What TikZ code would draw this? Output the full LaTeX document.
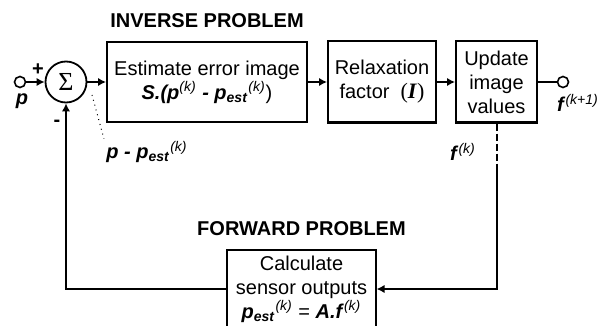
\documentclass[tikz,border=0pt]{standalone}
\usepackage{fontspec}
\setmainfont{Liberation Sans}
\newfontfamily\timesfont{Liberation Serif}
\usetikzlibrary{shapes,arrows,arrows.meta}

\newcommand{\bi}[1]{\textbf{\textit{#1}}}
\newcommand{\supk}{\textsuperscript{\textit{(k)}}}
\newcommand{\pest}{\bi{p}\textsubscript{\bi{est}}\supk}

\begin{document}
\begin{tikzpicture}[x=0.5pt, y=-0.5pt, auto]
        % Define block styles
        \tikzstyle{block} = [rectangle, draw, line width=1pt, align=center, inner sep=2pt]
        \tikzstyle{port} = [circle, draw, line width=0.8pt, minimum size=5.5pt, inner sep=0pt]
        \tikzstyle{adder} = [circle, draw, line width=0.9pt, minimum size=20.5pt, inner sep=0pt]
        \tikzstyle{title} = [font=\bfseries]
        \tikzstyle{tag} = [inner sep=1pt]
        \tikzstyle{line} = [draw, line width=1pt, -{Latex[length=4pt,width=4.2pt]}]

        \useasboundingbox (0,0) rectangle (599,326);

        % Nodes
        \node [port] (in) at (20,82) {};
        \node [adder, right of=in, node distance=23pt] (sum) {\timesfont\fontsize{13}{13}\selectfont Σ};
        \node [block, right of=sum, node distance=70.5pt, minimum width=100pt, minimum height=40pt] (est) {Estimate error image\\ \bi{S.(p}\supk\ \bi{-} \pest)};
        \node [block, right of=est, node distance=87.5pt, minimum width=54pt, minimum height=40.5pt] (relax) {Relaxation\\ factor\ \ {\timesfont\fontsize{11}{11}\selectfont(\bi{I})}};
        \node [block, right of=relax, node distance=57.25pt, minimum width=40.5pt, minimum height=40.5pt] (upd) {Update\\ image\\ values};
        \node [port, right of=upd, node distance=33.25pt] (out) {};
        \node [block, line width=0.6pt, minimum width=74.5pt, minimum height=39pt] (fwd) at (301.5,289) {Calculate\\ sensor outputs\\ \pest\ = \bi{A.f}\supk};
        \coordinate [below of=upd, node distance=42.75pt] (brk);
        \coordinate (tap) at (92,95);

        % Titles and labels
        \node [title, above of=est, node distance=30.5pt] (invtitle) {INVERSE PROBLEM};
        \node [title, above of=fwd, node distance=30pt] (fwdtitle) {FORWARD PROBLEM};
        \node [tag] (plus) at (38,70) {\textbf{+}};
        \node [tag] (minus) at (57,123) {\textbf{-}};
        \node [tag] (pin) at (22,101) {\bi{p}};
        \node [tag] (diff) at (147,152) {\bi{p} \bi{-} \pest};
        \node [tag] (fk) at (463,152) {\bi{f}\supk};
        \node [tag] (fnext) at (578,103) {\bi{f}\textsuperscript{\textit{(k+1)}}};

        % Arrows
        \path [line] (in) -- (sum);
        \path [line] (sum) -- (est);
        \path [line] (est) -- (relax);
        \path [line] (relax) -- (upd);
        \draw [line width=1pt] (upd) -- (out);
        \draw [line width=1pt, dash pattern=on 3.5pt off 1.5pt] (upd.south) -- (brk);
        \path [line] (brk) |- (fwd);
        \path [line] (fwd) -| (sum);
        \draw [dotted, line width=0.5pt] (tap) -- (diff.north west);
    \end{tikzpicture}
\end{document}
